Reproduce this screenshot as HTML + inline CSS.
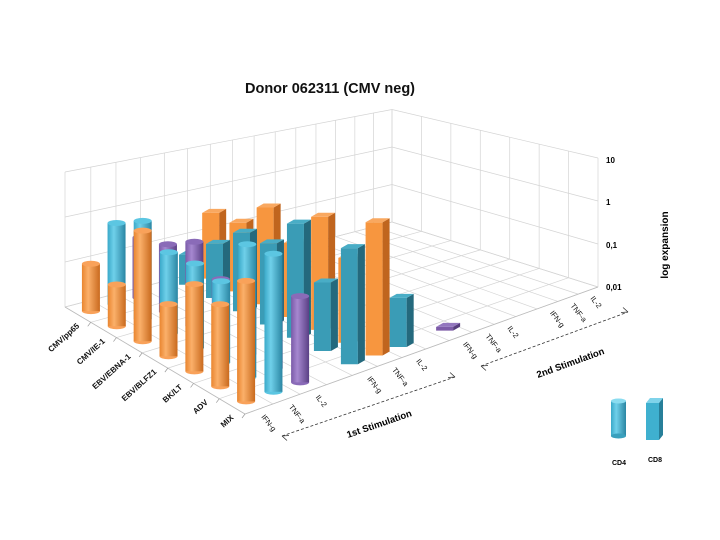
<!DOCTYPE html>
<html><head><meta charset="utf-8"><style>
html,body{margin:0;padding:0;background:#fff}
svg{display:block;font-family:"Liberation Sans",sans-serif}
</style></head><body>
<svg id="chart" width="720" height="540" viewBox="0 0 720 540" xmlns="http://www.w3.org/2000/svg">
<defs>
<linearGradient id="gOrange" x1="0" x2="1" y1="0" y2="0"><stop offset="0" stop-color="#e9852f"/><stop offset="0.35" stop-color="#fbb06a"/><stop offset="1" stop-color="#c96a1e"/></linearGradient>
<linearGradient id="gBlue" x1="0" x2="1" y1="0" y2="0"><stop offset="0" stop-color="#3aa9c9"/><stop offset="0.35" stop-color="#6fd0ea"/><stop offset="1" stop-color="#2a86a3"/></linearGradient>
<linearGradient id="gPurple" x1="0" x2="1" y1="0" y2="0"><stop offset="0" stop-color="#7a5aa8"/><stop offset="0.35" stop-color="#a688d0"/><stop offset="1" stop-color="#5a3f85"/></linearGradient>
</defs>
<g id="grid"></g>
<g id="bars"></g>
<g id="labels"></g>
<text x="330" y="93" text-anchor="middle" font-size="14.5" font-weight="bold" fill="#111">Donor 062311 (CMV neg)</text>
<text x="606" y="163" font-size="8" font-weight="bold">10</text>
<text x="606" y="205" font-size="8" font-weight="bold">1</text>
<text x="606" y="248" font-size="8" font-weight="bold">0,1</text>
<text x="606" y="290" font-size="8" font-weight="bold">0,01</text>
<text transform="translate(668,245) rotate(-90)" text-anchor="middle" font-size="10" font-weight="bold">log expansion</text>
<g>
<line x1="282" y1="436" x2="455" y2="377" stroke="#333" stroke-width="0.8" stroke-dasharray="3,2"/>
<path d="M282 436 l7 -0.5 M282 436 l5 4.5" stroke="#333" fill="none" stroke-width="0.8"/>
<path d="M455 377 l-7 0.5 M455 377 l-5 -4.5" stroke="#333" fill="none" stroke-width="0.8"/>
<text transform="translate(348,438) rotate(-19)" font-size="9.5" font-weight="bold">1st Stimulation</text>
</g>
<g>
<line x1="481" y1="366" x2="628" y2="312" stroke="#333" stroke-width="0.8" stroke-dasharray="3,2"/>
<path d="M481 366 l7 -0.5 M481 366 l5 4.5" stroke="#333" fill="none" stroke-width="0.8"/>
<path d="M628 312 l-7 0.5 M628 312 l-5 -4.5" stroke="#333" fill="none" stroke-width="0.8"/>
<text transform="translate(538,378) rotate(-20)" font-size="9.5" font-weight="bold">2nd Stimulation</text>
</g>
<g>
<g>
<rect x="611" y="401" width="15" height="35" fill="url(#gBlue)"/>
<ellipse cx="618.5" cy="436" rx="7.5" ry="2.5" fill="#3aa0bd"/>
<ellipse cx="618.5" cy="401" rx="7.5" ry="2.5" fill="#8adcf0"/>
<text x="619" y="465" text-anchor="middle" font-size="7" font-weight="bold">CD4</text>
</g>
<g>
<polygon points="646,403 659,403 659,440 646,440" fill="#3fb0cf"/>
<polygon points="646,403 650,398 663,398 659,403" fill="#7fd3ea"/>
<polygon points="659,403 663,398 663,435 659,440" fill="#277f99"/>
<text x="655" y="462" text-anchor="middle" font-size="7" font-weight="bold">CD8</text>
</g>
</g>
</svg>
<script>
var rowLabels = ["CMV/pp65","CMV/IE-1","EBV/EBNA-1","EBV/BLFZ1","BK/LT","ADV","MIX"];
var colLabels = ["IFN-g","TNF-a","IL-2","IFN-g","TNF-a","IL-2","IFN-g","TNF-a","IL-2","IFN-g","TNF-a","IL-2"];
var zTicks = [0.01, 0.1, 1, 10];
var barRows = [0,0,0,0,0, 1,1,1,1,1, 2,2,2,2,2, 3,3,3,3,3, 4,4,4,4,4, 5,5,5,5,5, 6,6,6,6,6,6,6];
var barCols = [0,1,2,3,4, 0,1,2,3,4, 0,1,2,3,4, 0,1,2,3,4, 0,1,2,3,4, 0,1,2,3,4, 0,1,2,3,4,5,6];
var barValues = [0.11,0.65,0.23,0.05,0.35, 0.077,1.3,0.3,0.165,0.37, 1.9,0.5,0.61,0.52,1.4, 0.11,0.52,0.18,0.53,0.4, 0.49,0.4,0.3,2.3,2.4, 0.35,3.5,0.3,0.24,0.55, 1.6,3.7,0.43,1.9,4.6,0.1,0.012];
var barKinds = ["cd4-orange","cd4-blue","cd4-purple","cd8-teal","cd8-orange", "cd4-orange","cd4-blue","cd4-purple","cd8-teal","cd8-orange", "cd4-orange","cd4-blue","cd4-purple","cd8-teal","cd8-orange", "cd4-orange","cd4-blue","cd4-purple","cd8-teal","cd8-orange", "cd4-orange","cd4-blue","cd4-purple","cd8-teal","cd8-orange", "cd4-orange","cd4-blue","cd4-purple","cd8-teal","cd8-orange", "cd4-orange","cd4-blue","cd4-purple","cd8-teal","cd8-orange","cd8-teal","cd8-purple"];

var NS = "http://www.w3.org/2000/svg";
var A = [65,307], B = [245,414], C = [598,287], D = [392,222];
var kA = 45, kB = 56, kC = 43, kD = 37.5;
var nSlots = 15, persp = 0.2;
function floorPt(u, v) {
  var a=(1-u)*(1-v), b=u*(1-v), c=u*v, d=(1-u)*v;
  return [a*A[0]+b*B[0]+c*C[0]+d*D[0], a*A[1]+b*B[1]+c*C[1]+d*D[1], a*kA+b*kB+c*kC+d*kD];
}
function slotV(s){ var t=s/nSlots; return t*(1+persp)/(1+persp*t); }
function rowU(r){ return (r+0.5)/rowLabels.length; }
function colSlot(c){ return c + Math.floor(c/3); }
function colV(c){ return slotV(colSlot(c)+0.5); }
function zPx(val, k){ return (Math.log10(val) - Math.log10(zTicks[0])) * k; }
function mk(tag, attrs, parent){ var e=document.createElementNS(NS,tag); for (var key in attrs) e.setAttribute(key, attrs[key]); parent.appendChild(e); return e; }

var grid = document.getElementById("grid");
var gc = "#d4d4d4";
var nDec = zTicks.length - 1;
for (var i=0;i<=rowLabels.length;i++){ var u=i/rowLabels.length; var p=floorPt(u,0), q=floorPt(u,1);
  var ln=mk("line",{x1:p[0],y1:p[1],x2:q[0],y2:q[1],stroke:gc,"stroke-width":0.7},grid);
  
   }
for (var j=0;j<=nSlots;j++){ var v=slotV(j); var p=floorPt(0,v), q=floorPt(1,v);
  var ln=mk("line",{x1:p[0],y1:p[1],x2:q[0],y2:q[1],stroke:gc,"stroke-width":0.7},grid);
  
   }
for (var j=0;j<=nSlots;j++){ var p=floorPt(0,slotV(j));
  var ln=mk("line",{x1:p[0],y1:p[1],x2:p[0],y2:p[1]-nDec*p[2],stroke:gc,"stroke-width":0.7},grid);
  
   }
for (var i=0;i<=rowLabels.length;i++){ var p=floorPt(i/rowLabels.length,1);
  var ln=mk("line",{x1:p[0],y1:p[1],x2:p[0],y2:p[1]-nDec*p[2],stroke:gc,"stroke-width":0.7},grid);
  
   }
var pA=floorPt(0,0), pD=floorPt(0,1), pC=floorPt(1,1);
for (var t=0;t<zTicks.length;t++){
  var h=zPx(zTicks[t],1);
  var pl=mk("polyline",{points:pA[0]+","+(pA[1]-h*pA[2])+" "+pD[0]+","+(pD[1]-h*pD[2])+" "+pC[0]+","+(pC[1]-h*pC[2]),fill:"none",stroke:gc,"stroke-width":0.7},grid);
  
  
}
var fe=mk("polyline",{points:pA[0]+","+pA[1]+" "+B[0]+","+B[1]+" "+C[0]+","+C[1],fill:"none",stroke:"#bbb","stroke-width":0.8},grid);



var lab = document.getElementById("labels");
for (var i=0;i<rowLabels.length;i++){ var p=floorPt(rowU(i),0);
  var tk=floorPt((i+1)/rowLabels.length,0);
  mk("line",{x1:tk[0],y1:tk[1],x2:tk[0]-3,y2:tk[1]+4,stroke:"#999","stroke-width":0.7},lab);
  var tx=mk("text",{transform:"translate("+(p[0]+2)+","+(p[1]+12)+") rotate(-42)","text-anchor":"end","font-size":8,"font-weight":"bold",fill:"#111"},lab);
  tx.textContent=rowLabels[i];
  
   }
for (var j=0;j<colLabels.length;j++){ var p=floorPt(1,colV(j));
  var tx=mk("text",{transform:"translate("+(p[0]+2)+","+(p[1]+8)+") rotate(52)","text-anchor":"start","font-size":7.5,fill:"#111"},lab);
  tx.textContent=colLabels[j];
  
   }

var barsG = document.getElementById("bars");
var order = barValues.map(function(_,i){return i;});
order.sort(function(a,b){ return floorPt(rowU(barRows[a]),colV(barCols[a]))[1] - floorPt(rowU(barRows[b]),colV(barCols[b]))[1]; });
var fills = {"cd4-orange":"url(#gOrange)","cd4-blue":"url(#gBlue)","cd4-purple":"url(#gPurple)"};
var tops = {"cd4-orange":"#f9a25a","cd4-blue":"#5cc6e2","cd4-purple":"#8a6bb8"};
var boxFront = {"cd8-teal":"#3a9cb6","cd8-orange":"#f7963f","cd8-purple":"#7d5ca8"};
var boxSide = {"cd8-teal":"#24697d","cd8-orange":"#c0651e","cd8-purple":"#553c7c"};
var boxTop = {"cd8-teal":"#49adc6","cd8-orange":"#f9a860","cd8-purple":"#9377be"};
order.forEach(function(i){
  var p=floorPt(rowU(barRows[i]),colV(barCols[i]));
  var h=zPx(barValues[i],p[2]); var x=p[0], y=p[1];
  var g=mk("g",{},barsG);
  
  
  var k=barKinds[i];
  if (k.indexOf("cd4")===0){
    var w=18, ry=3;
    mk("ellipse",{cx:x,cy:y,rx:w/2,ry:ry,fill:tops[k]},g);
    mk("rect",{x:x-w/2,y:y-h,width:w,height:h,fill:fills[k]},g);
    mk("ellipse",{cx:x,cy:y-h,rx:w/2,ry:ry,fill:tops[k]},g);
  } else {
    var w=17, dx=7, dy=4, x0=x-w/2-2;
    mk("polygon",{points:x0+","+(y-h)+" "+(x0+w)+","+(y-h)+" "+(x0+w)+","+y+" "+x0+","+y,fill:boxFront[k]},g);
    mk("polygon",{points:(x0+w)+","+(y-h)+" "+(x0+w+dx)+","+(y-h-dy)+" "+(x0+w+dx)+","+(y-dy)+" "+(x0+w)+","+y,fill:boxSide[k]},g);
    mk("polygon",{points:x0+","+(y-h)+" "+(x0+dx)+","+(y-h-dy)+" "+(x0+w+dx)+","+(y-h-dy)+" "+(x0+w)+","+(y-h),fill:boxTop[k]},g);
  }
});
</script>
</body></html>
